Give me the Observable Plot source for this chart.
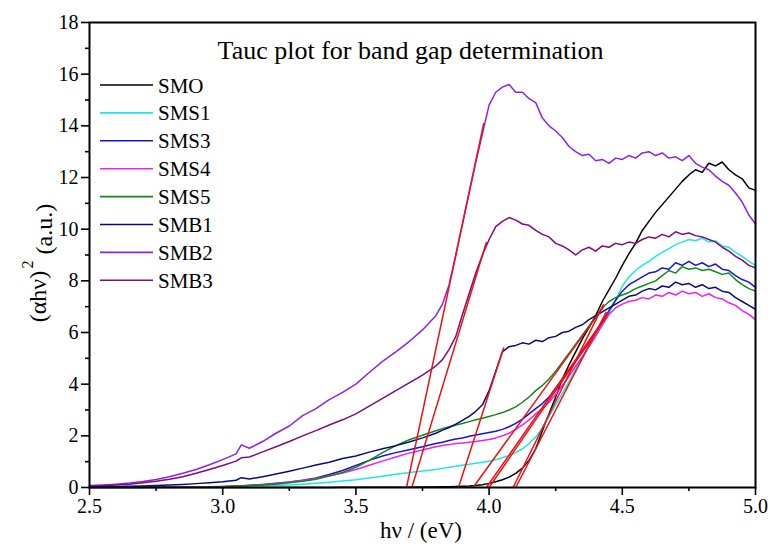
<!DOCTYPE html>
<html><head><meta charset="utf-8">
<script src="https://cdn.jsdelivr.net/npm/d3@7"></script>
<script src="https://cdn.jsdelivr.net/npm/@observablehq/plot@0.6"></script>
<style>html,body{margin:0;padding:0;background:#fff}</style>
</head><body><div id="chart"></div>
<script>
const energy = [2.5,2.55,2.6,2.65,2.7,2.75,2.8,2.85,2.9,2.95,3.0,3.05,3.07,3.1,3.15,3.2,3.25,3.3,3.35,3.4,3.45,3.5,3.55,3.6,3.65,3.7,3.75,3.8,
 3.825,3.85,3.875,3.9,3.925,3.95,3.975,4.0,4.025,4.05,4.075,4.1,4.125,4.15,4.175,4.2,4.225,4.25,4.275,4.3,4.325,4.35,4.375,4.4,4.425,4.45,4.475,4.5,4.525,4.55,4.575,4.6,4.625,4.65,4.675,4.7,4.725,4.75,4.775,4.8,4.825,4.85,4.875,4.9,4.925,4.95,4.975,5.0];

const SMO = [0,0,0,0,0,0,0,0,0,0,0,0,0,0,0,0,0,0,0,0,0.01,0.01,0.01,0.01,0.01,0.01,0.02,0.02,
 0.03,0.03,0.04,0.05,0.06,0.08,0.11,0.16,0.22,0.30,0.40,0.55,0.75,1.05,1.5,2.2,2.85,3.5,4.2,4.75,5.25,5.75,6.2,6.65,7.2,7.65,8.1,8.6,9.05,9.45,9.95,10.3,10.65,10.95,11.25,11.55,11.85,12.1,12.3,12.2,12.55,12.45,12.6,12.3,12.1,11.95,11.6,11.5];
const SMS1 = [0.01,0.01,0.01,0.01,0.01,0.01,0.02,0.02,0.02,0.02,0.03,0.04,0.04,0.05,0.06,0.08,0.10,0.13,0.16,0.20,0.25,0.30,0.37,0.44,0.51,0.58,0.64,0.70,
 0.74,0.78,0.82,0.86,0.90,0.94,0.98,1.02,1.08,1.15,1.24,1.35,1.50,1.70,1.95,2.3,2.75,3.2,3.65,4.1,4.6,5.05,5.5,5.9,6.3,6.75,7.25,7.8,8.15,8.4,8.6,8.75,8.95,9.1,9.25,9.4,9.5,9.6,9.55,9.65,9.5,9.55,9.35,9.3,9.1,8.95,8.75,8.6];
const SMS3 = [0.01,0.01,0.01,0.01,0.01,0.02,0.02,0.02,0.03,0.03,0.04,0.06,0.07,0.09,0.12,0.16,0.21,0.28,0.37,0.50,0.66,0.85,1.05,1.22,1.35,1.46,1.58,1.70,
 1.75,1.82,1.88,1.92,1.98,2.03,2.08,2.13,2.18,2.25,2.35,2.48,2.65,2.85,3.05,3.25,3.5,3.85,4.2,4.55,4.9,5.25,5.6,6.0,6.4,6.85,7.25,7.6,7.85,8.0,8.15,8.3,8.35,8.5,8.45,8.7,8.6,8.75,8.6,8.7,8.55,8.65,8.45,8.4,8.2,8.05,7.95,7.75];
const SMS4 = [0.01,0.01,0.01,0.01,0.01,0.01,0.02,0.02,0.02,0.03,0.03,0.05,0.06,0.08,0.11,0.15,0.20,0.27,0.35,0.45,0.56,0.70,0.86,1.02,1.18,1.33,1.45,1.58,
 1.63,1.66,1.70,1.72,1.75,1.78,1.82,1.86,1.92,2.0,2.1,2.25,2.42,2.62,2.85,3.05,3.3,3.6,3.95,4.3,4.7,5.05,5.45,5.85,6.3,6.7,6.95,7.1,7.2,7.25,7.35,7.3,7.45,7.4,7.55,7.45,7.6,7.5,7.55,7.4,7.5,7.35,7.3,7.15,7.05,6.85,6.7,6.5];
const SMS5 = [0,0,0,0,0,0.01,0.01,0.01,0.02,0.02,0.03,0.05,0.06,0.07,0.10,0.13,0.18,0.24,0.32,0.44,0.58,0.78,1.05,1.35,1.62,1.85,2.02,2.20,
 2.28,2.35,2.42,2.48,2.55,2.62,2.68,2.75,2.82,2.90,3.0,3.12,3.3,3.5,3.75,3.95,4.2,4.5,4.85,5.2,5.55,5.9,6.25,6.6,6.95,7.2,7.35,7.45,7.55,7.7,7.8,7.9,8.0,8.2,8.4,8.3,8.55,8.45,8.5,8.4,8.45,8.35,8.25,8.3,8.05,7.85,7.7,7.6];
const SMB1 = [0.02,0.03,0.04,0.05,0.06,0.08,0.10,0.12,0.15,0.18,0.22,0.28,0.38,0.33,0.42,0.52,0.63,0.75,0.87,0.98,1.12,1.22,1.37,1.50,1.62,1.76,1.92,2.10,
 2.22,2.32,2.45,2.6,2.75,2.95,3.2,3.75,4.5,5.25,5.45,5.5,5.6,5.55,5.7,5.65,5.8,5.85,6.0,6.05,6.2,6.3,6.5,6.65,6.8,6.95,7.1,7.25,7.4,7.45,7.6,7.7,7.65,7.8,7.75,7.95,7.85,7.9,7.75,7.85,7.7,7.75,7.6,7.55,7.35,7.2,7.05,6.9];
const SMB2 = [0.08,0.10,0.13,0.17,0.23,0.31,0.42,0.55,0.70,0.88,1.08,1.30,1.65,1.52,1.78,2.10,2.38,2.78,3.05,3.40,3.68,4.00,4.45,4.88,5.25,5.65,6.10,6.65,
 7.1,7.85,9.0,10.2,11.4,12.6,13.7,14.8,15.3,15.5,15.6,15.3,15.3,15.05,14.9,14.3,14.0,13.8,13.55,13.2,13.0,12.85,12.9,12.65,12.7,12.55,12.75,12.7,12.85,12.75,12.95,13.0,12.85,12.95,12.75,12.8,12.65,12.85,12.55,12.4,12.3,12.05,11.85,11.7,11.4,11.05,10.55,10.2];
const SMB3 = [0.05,0.07,0.10,0.13,0.18,0.24,0.32,0.42,0.55,0.70,0.85,1.02,1.15,1.18,1.38,1.58,1.78,2.00,2.20,2.42,2.62,2.85,3.15,3.45,3.75,4.05,4.35,4.70,
 4.95,5.35,5.85,6.7,7.5,8.3,9.0,9.6,10.1,10.3,10.45,10.35,10.2,10.15,9.95,9.8,9.7,9.45,9.35,9.2,9.0,9.2,9.3,9.15,9.35,9.3,9.45,9.4,9.5,9.45,9.6,9.7,9.65,9.8,9.7,9.9,9.8,9.85,9.75,9.7,9.6,9.5,9.3,9.15,8.95,8.8,8.6,8.5];

const seriesNames = ["SMO","SMS1","SMS3","SMS4","SMS5","SMB1","SMB2","SMB3"];
const seriesColors = ["#000000","#1ee6e6","#1414d2","#f01ef0","#128a12","#0a0a80","#8a22f0","#800a80"];
const seriesValues = [SMO,SMS1,SMS3,SMS4,SMS5,SMB1,SMB2,SMB3];

// red linear fits (x-intercept -> end point)
const tangentSeries = ["SMB2","SMB3","SMB1","SMS5","SMS3","SMS4","SMS1","SMO"];
const tangentX0 = [3.69,3.71,3.885,3.94,3.99,4.00,4.10,4.09];
const tangentX1 = [3.98,3.99,4.055,4.43,4.45,4.44,4.44,4.43];
const tangentY1 = [14.1,9.5,5.42,7.0,6.8,6.6,6.8,7.1];

const xMajor = [2.5,3.0,3.5,4.0,4.5,5.0];
const xMinor = [2.75,3.25,3.75,4.25,4.75];
const yMajor = [0,2,4,6,8,10,12,14,16,18];
const yMinor = [1,3,5,7,9,11,13,15,17];

const titleText = "Tauc plot for band gap determination";

const rows = [];
seriesNames.forEach((s, i) => energy.forEach((e, j) => rows.push({series: s, x: e, y: seriesValues[i][j]})));
const tangents = tangentSeries.map((s, i) => ({series: s, x0: tangentX0[i], x1: tangentX1[i], y1: tangentY1[i]}));

const serif = "'Liberation Serif','Times New Roman',serif";

const chart = Plot.plot({
  width: 772, height: 544,
  marginLeft: 89, marginRight: 17, marginTop: 22, marginBottom: 57,
  x: {domain: [2.5, 5.0]},
  y: {domain: [0, 18]},
  color: {domain: seriesNames, range: seriesColors},
  style: {fontFamily: serif, background: "#fff", color: "#000", overflow: "visible"},
  marks: [
    Plot.line(rows, {x: "x", y: "y", z: "series", stroke: "series", strokeWidth: 1.5}),
    Plot.link(tangents, {x1: "x0", y1: 0, x2: "x1", y2: "y1", stroke: "#ee1111", strokeWidth: 1.5}),
    Plot.axisX({ticks: xMajor, tickSize: 8, tickPadding: 3, strokeWidth: 1.6, fontSize: 20, tickFormat: d => d.toFixed(1), label: null}),
    Plot.axisX({ticks: xMinor, tickSize: 4, strokeWidth: 1.6, tickFormat: () => "", label: null}),
    Plot.axisY({ticks: yMajor, tickSize: 8, tickPadding: 3, strokeWidth: 1.6, fontSize: 20, tickFormat: d => String(d), label: null}),
    Plot.axisY({ticks: yMinor, tickSize: 4, strokeWidth: 1.6, tickFormat: () => "", label: null}),
    Plot.frame({stroke: "#000", strokeWidth: 2}),
    Plot.text([titleText], {frameAnchor: "top", dx: -12, dy: 18, fontSize: 26, fill: "#000"})
  ]
});

const svg = d3.select(chart);
// legend
const lg = svg.append("g").attr("font-family", serif).attr("font-size", 21).attr("text-anchor", "start");
seriesNames.forEach((n, i) => {
  const yy = 85 + i * 27.9;
  lg.append("line").attr("x1", 100).attr("x2", 153).attr("y1", yy).attr("y2", yy)
    .attr("stroke", seriesColors[i]).attr("stroke-width", 1.6);
  lg.append("text").attr("x", 158).attr("y", yy).attr("dy", "0.36em").attr("fill", "#000").text(n);
});
// axis labels
svg.append("text").attr("x", 421).attr("y", 538).attr("text-anchor", "middle")
  .attr("font-family", serif).attr("font-size", 23).attr("fill", "#000").text("hν / (eV)");
const yl = svg.append("text").attr("transform", "translate(46,263) rotate(-90)").attr("text-anchor", "middle")
  .attr("font-family", serif).attr("font-size", 24).attr("fill", "#000");
yl.append("tspan").text("(αhν)");
yl.append("tspan").attr("dy", "-0.8em").attr("dx", "0.15em").attr("font-size", 16).text("2");
yl.append("tspan").attr("dy", "0.8em").text(" (a.u.)");

document.getElementById("chart").appendChild(chart);
</script>
</body></html>
